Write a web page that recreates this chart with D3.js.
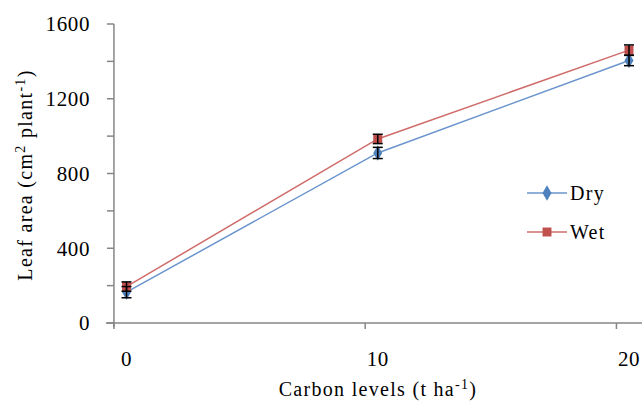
<!DOCTYPE html>
<html>
<head>
<meta charset="utf-8">
<script src="https://cdn.jsdelivr.net/npm/d3@7"></script>
<style>
  body { margin: 0; background: #fff; }
</style>
</head>
<body>
<div id="chart"></div>
<script>
// Data.
const carbon_levels = [0, 10, 20];
const dry_values = [165, 910, 1405];
const dry_errors = [30, 30, 28];
const wet_values = [195, 985, 1460];
const wet_errors = [25, 25, 28];
const y_ticks = [0, 400, 800, 1200, 1600];
const y_minor_ticks = [200, 600, 1000, 1400];

const width = 642, height = 410;
const axis_color = "#868686";
const font = "'Liberation Serif', 'Times New Roman', serif";

let svg = d3.select("#chart")
    .append("svg")
        .attr("width", width)
        .attr("height", height)
        .style("font-family", font);

// Define scales.
let x_scale = d3.scaleLinear()
    .domain([0, 20])
    .range([126.5, 629]);
let y_scale = d3.scaleLinear()
    .domain([0, 1600])
    .range([323, 24]);

// Y axis line and ticks.
svg.append("line")
    .attr("x1", x_scale(-0.5)).attr("x2", x_scale(-0.5))
    .attr("y1", y_scale(1600)).attr("y2", y_scale(0) + 4)
    .attr("stroke", axis_color).attr("stroke-width", 1.5);
svg.selectAll(".ytick")
    .data(y_ticks.concat(y_minor_ticks))
    .enter()
    .append("line")
        .attr("x1", x_scale(-0.5) - 7).attr("x2", x_scale(-0.5))
        .attr("y1", d => y_scale(d)).attr("y2", d => y_scale(d))
        .attr("stroke", axis_color).attr("stroke-width", 1.5);
svg.selectAll(".ylabel")
    .data(y_ticks)
    .enter()
    .append("text")
        .attr("x", 90)
        .attr("y", d => y_scale(d))
        .attr("dy", "0.35em")
        .style("text-anchor", "end")
        .style("font-size", "21px")
        .style("letter-spacing", "0.6px")
        .text(d => d);

// X axis line and ticks (ticks sit half a step before each category).
svg.append("line")
    .attr("x1", x_scale(-0.5) - 8).attr("x2", width)
    .attr("y1", y_scale(0)).attr("y2", y_scale(0))
    .attr("stroke", axis_color).attr("stroke-width", 1.5);
svg.selectAll(".xtick")
    .data(carbon_levels)
    .enter()
    .append("line")
        .attr("x1", d => x_scale(d - 0.5)).attr("x2", d => x_scale(d - 0.5))
        .attr("y1", y_scale(0)).attr("y2", y_scale(0) + 6)
        .attr("stroke", axis_color).attr("stroke-width", 1.5);
svg.selectAll(".xlabel")
    .data(carbon_levels)
    .enter()
    .append("text")
        .attr("x", d => x_scale(d))
        .attr("y", 366)
        .style("text-anchor", "middle")
        .style("font-size", "21px")
        .style("letter-spacing", "0.6px")
        .text(d => d);

// Axis titles.
let x_title = svg.append("text")
    .attr("x", 378)
    .attr("y", 396)
    .style("text-anchor", "middle")
    .style("font-size", "20px")
    .style("letter-spacing", "1.3px");
x_title.append("tspan").text("Carbon levels (t ha");
x_title.append("tspan").attr("baseline-shift", "super").style("font-size", "14px").text("-1");
x_title.append("tspan").text(")");

let y_title = svg.append("text")
    .attr("transform", "translate(32,175) rotate(-90)")
    .style("text-anchor", "middle")
    .style("font-size", "20px")
    .style("letter-spacing", "1.3px");
y_title.append("tspan").text("Leaf area (cm");
y_title.append("tspan").attr("baseline-shift", "super").style("font-size", "14px").text("2");
y_title.append("tspan").text(" plant");
y_title.append("tspan").attr("baseline-shift", "super").style("font-size", "14px").text("-1");
y_title.append("tspan").text(")");

// Series.
let series = [
    { name: "Dry", values: dry_values, errors: dry_errors, color: "#4F81BD", line_color: "#6A95CC", shape: d3.symbolDiamond },
    { name: "Wet", values: wet_values, errors: wet_errors, color: "#C0504D", line_color: "#CF6C6A", shape: d3.symbolSquare }
];

let line = d3.line()
    .x((d, i) => x_scale(carbon_levels[i]))
    .y(d => y_scale(d));

series.forEach(function(s) {
    svg.append("path")
        .datum(s.values)
        .attr("fill", "none")
        .attr("stroke", s.line_color)
        .attr("stroke-width", 1.5)
        .attr("d", line);

    svg.selectAll(".marker_" + s.name)
        .data(s.values)
        .enter()
        .append("path")
            .attr("transform", (d, i) => "translate(" + x_scale(carbon_levels[i]) + "," + y_scale(d) + ")")
            .attr("d", d3.symbol().type(s.shape).size(s.shape === d3.symbolSquare ? 80 : 70))
            .attr("fill", s.color);
});

// Error bars on top of the markers.
series.forEach(function(s) {
    let g = svg.append("g").attr("stroke", "#000").attr("stroke-width", 1.5);
    s.values.forEach(function(v, i) {
        let cx = x_scale(carbon_levels[i]);
        let top = y_scale(v + s.errors[i]), bottom = y_scale(v - s.errors[i]);
        g.append("line").attr("x1", cx).attr("x2", cx).attr("y1", top).attr("y2", bottom);
        g.append("line").attr("x1", cx - 5).attr("x2", cx + 5).attr("y1", top).attr("y2", top);
        g.append("line").attr("x1", cx - 5).attr("x2", cx + 5).attr("y1", bottom).attr("y2", bottom);
    });
});

// Legend.
let legend = svg.selectAll(".legend")
    .data(series)
    .enter()
    .append("g")
        .attr("transform", (d, i) => "translate(527," + (193 + i * 39) + ")");
legend.append("line")
    .attr("x1", 0).attr("x2", 40)
    .attr("stroke", d => d.line_color)
    .attr("stroke-width", 1.5);
legend.append("path")
    .attr("transform", "translate(20,0)")
    .attr("d", d => d3.symbol().type(d.shape).size(d.shape === d3.symbolSquare ? 80 : 70)())
    .attr("fill", d => d.color);
legend.append("text")
    .attr("x", 43)
    .attr("dy", "0.35em")
    .style("font-size", "20px")
    .style("letter-spacing", "1.3px")
    .text(d => d.name);
</script>
</body>
</html>
